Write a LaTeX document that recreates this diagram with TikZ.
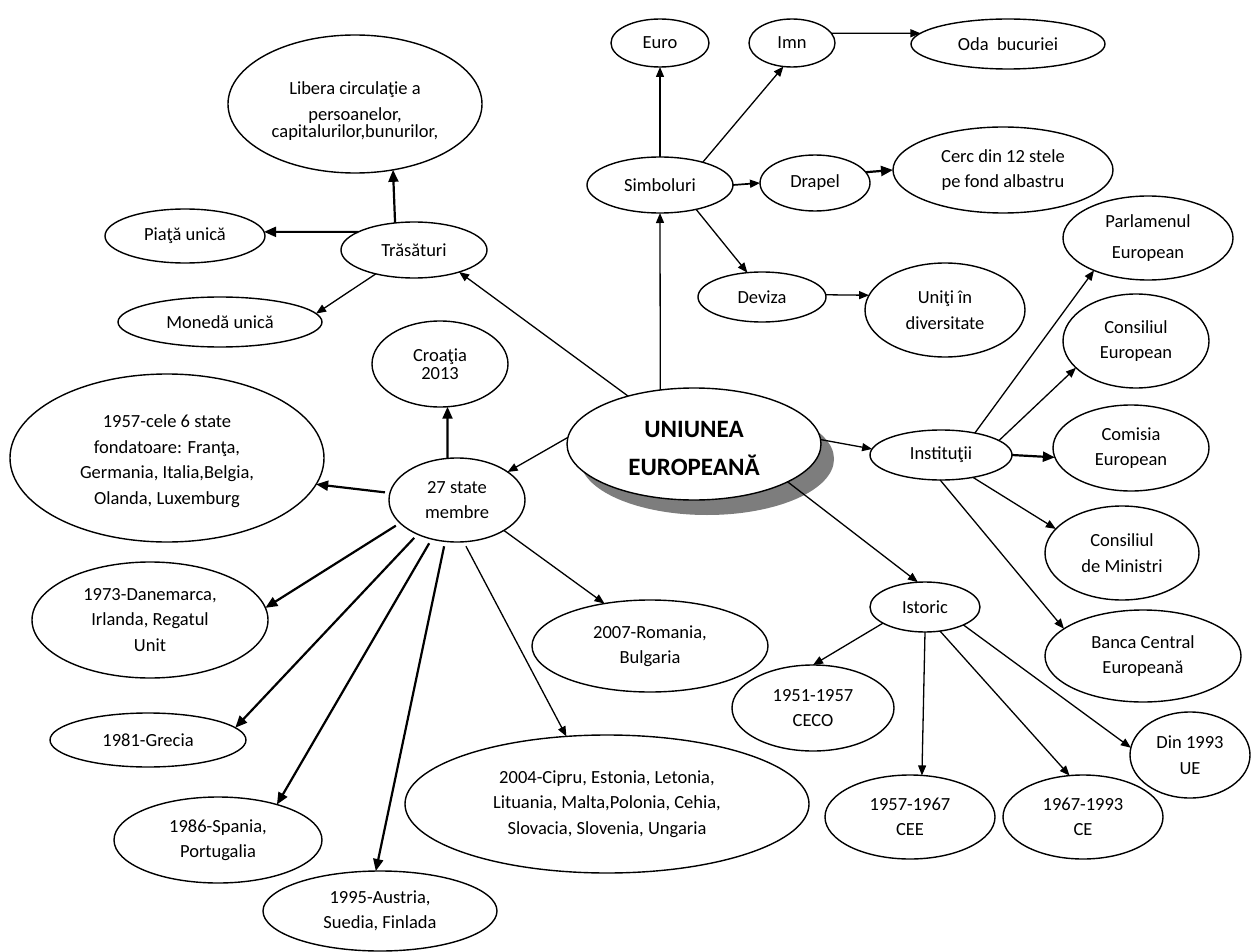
\documentclass[tikz,border=0pt]{standalone}
\usepackage{fontspec}
\setmainfont{Carlito}
\usetikzlibrary{shapes.geometric,arrows.meta}
\definecolor{shadowgray}{RGB}{125,125,125}
\newcommand{\txtdown}[2]{\raisebox{-#1}[\height][\depth]{\begin{tabular}{@{}c@{}}#2\end{tabular}}}
\begin{document}
\begin{tikzpicture}[x=1pt,y=-1pt,
  ell/.style={draw=black, line width=1.4pt, ellipse, inner sep=0pt, outer sep=0pt, align=center, font=\fontsize{18.5}{25.5}\selectfont, fill=white},
  sz/.style 2 args={minimum width=#1, minimum height=#2},
  ar/.style={line width=1.3pt, -{Triangle[length=10pt,width=8pt]}},
  tk/.style={line width=2.2pt, -{Triangle[length=12pt,width=10pt]}},
]
\fill[white] (0,0) rectangle (1256,952);
\useasboundingbox (0,0) rectangle (1256,952);

% shadow of the central ellipse
\fill[shadowgray] (707,459) ellipse [x radius=127, y radius=56];

% nodes
\node[ell, sz={254pt}{138pt}] (lib) at (355,104) {\txtdown{7pt}{Libera circulaţie a\\persoanelor,\\[-8pt]capitalurilor,bunurilor,}};
\node[ell, sz={160pt}{54pt}] (piata) at (185,236) {Piaţă unică};
\node[ell, sz={146pt}{56pt}] (tras) at (414,250) {Trăsături};
\node[ell, sz={204pt}{50pt}] (moneda) at (220,322) {Monedă unică};
\node[ell, sz={98pt}{48pt}] (euro) at (660,43) {Euro};
\node[ell, sz={86pt}{48pt}] (imn) at (792,43) {Imn};
\node[ell, sz={194pt}{50pt}] (oda) at (1008,44) {Oda~ bucuriei};
\node[ell, sz={146pt}{56pt}] (simb) at (660,185) {Simboluri};
\node[ell, sz={110pt}{56pt}] (drapel) at (815,183) {Drapel};
\node[ell, sz={220pt}{86pt}] (cerc) at (1003,170) {Cerc din 12 stele\\pe fond albastru};
\node[ell, sz={128pt}{50pt}] (deviza) at (762,297) {Deviza};
\node[ell, sz={160pt}{94pt}] (uniti) at (945,310) {Uniţi în\\diversitate};
\node[ell, sz={254pt}{112pt}, font=\bfseries\fontsize{25}{38}\selectfont] (ue) at (694,444) {\txtdown{5pt}{UNIUNEA\\EUROPEANĂ}};
\node[ell, sz={142pt}{50pt}] (inst) at (941,455) {Instituţii};
\node[ell, sz={170pt}{84pt}] (parl) at (1148,238) {Parlamenul\\[6pt]European};
\node[ell, sz={146pt}{94pt}] (conse) at (1136,341) {Consiliul\\European};
\node[ell, sz={156pt}{86pt}] (comis) at (1131,448) {Comisia\\European};
\node[ell, sz={154pt}{94pt}] (consm) at (1122,553) {Consiliul\\de Ministri};
\node[ell, sz={196pt}{92pt}] (banca) at (1143,656) {Banca Central\\Europeană};
\node[ell, sz={110pt}{50pt}] (ist) at (925,607) {Istoric};
\node[ell, sz={162pt}{86pt}] (ceco) at (813,708) {1951-1957\\CECO};
\node[ell, sz={170pt}{84pt}] (cee) at (910,817) {1957-1967\\CEE};
\node[ell, sz={160pt}{84pt}] (ce) at (1083,817) {1967-1993\\CE};
\node[ell, sz={120pt}{86pt}] (din) at (1190,755) {Din 1993\\UE};
\node[ell, sz={136pt}{86pt}] (cro) at (440,364) {Croaţia\\[-7pt]2013};
\node[ell, sz={136pt}{84pt}] (s27) at (457,500) {27 state\\membre};
\node[ell, sz={314pt}{168pt}] (f57) at (167,458) {\txtdown{3pt}{1957-cele 6 state\\fondatoare: Franţa,\\Germania, Italia,Belgia,\\Olanda, Luxemburg}};
\node[ell, sz={236pt}{116pt}] (d73) at (150,620) {1973-Danemarca,\\Irlanda, Regatul\\Unit};
\node[ell, sz={196pt}{54pt}] (g81) at (148,740) {1981-Grecia};
\node[ell, sz={208pt}{86pt}] (s86) at (218,840) {1986-Spania,\\Portugalia};
\node[ell, sz={234pt}{80pt}] (a95) at (380,911) {1995-Austria,\\Suedia, Finlada};
\node[ell, sz={404pt}{138pt}] (c04) at (607,804) {2004-Cipru, Estonia, Letonia,\\Lituania, Malta,Polonia, Cehia,\\Slovacia, Slovenia, Ungaria};
\node[ell, sz={236pt}{92pt}] (r07) at (650,646) {2007-Romania,\\Bulgaria};

% connectors
\draw[tk] (tras.125) -- (lib.300);
\draw[tk] (tras.162) -- (piata.3);
\draw[ar] (tras.212) -- (moneda.5);
\draw[ar] (ue.144) -- (tras.334);
\draw[ar] (ue.122) -- (simb.270);
\draw[ar] (simb.90) -- (euro.270);
\draw[ar] (simb.28) -- (imn.250);
\draw[ar] (imn.14) -- (oda.173);
\draw[ar, line width=1.7pt] (simb.0) -- (drapel.180);
\draw[tk] (drapel.12) -- (cerc.180);
\draw[ar] (simb.326) -- (deviza.121);
\draw[ar] (deviza.2) -- (uniti.169);
\draw[ar] (ue.2) -- (inst.175);
\draw[ar] (inst.33) -- (parl.211);
\draw[ar] (inst.14) -- (conse.204);
\draw[tk] (inst.0) -- (comis.187);
\draw[ar] (inst.325) -- (consm.160);
\draw[ar] (inst.268) -- (banca.161);
\draw[ar] (ue.338) -- (ist.106);
\draw[ar] (ist.201) -- (ceco.90);
\draw[ar] (ist.270) -- (cee.74);
\draw[ar] (ist.302) -- (ce.108);
\draw[ar] (ist.335) -- (din.173);
\draw[ar] (ue.177) -- (s27.29);
\draw[tk] (s27.103) -- (cro.280);
\draw[tk, shorten <=5pt] (s27.174) -- (f57.350);
\draw[tk, shorten <=5pt] (s27.202) -- (d73.6);
\draw[tk, shorten <=5pt] (s27.221) -- (g81.8);
\draw[tk, shorten <=5pt] (s27.237) -- (s86.31);
\draw[tk, shorten <=5pt] (s27.254) -- (a95.96);
\draw[ar, shorten <=5pt] (s27.279) -- (c04.121);
\draw[ar] (s27.327) -- (r07.137);
\end{tikzpicture}
\end{document}
